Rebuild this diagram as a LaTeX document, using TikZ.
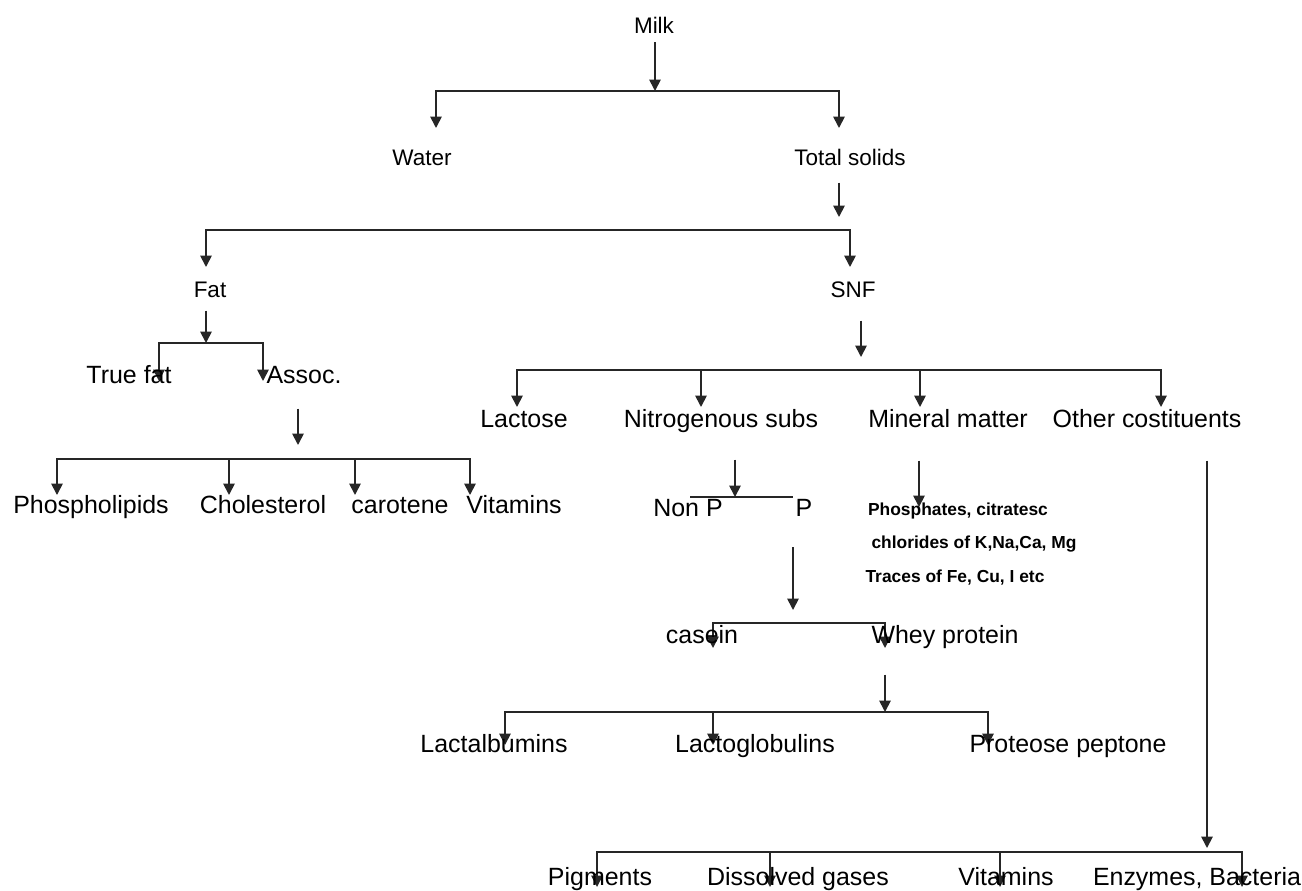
\documentclass[tikz,border=0pt]{standalone}
\usepackage{fontspec}
\setmainfont{Liberation Sans}
\usetikzlibrary{arrows.meta}
\tikzset{
    link/.style={line width=1pt, black!85},
    flowarrow/.style={link, -{Triangle[length=6.5pt, width=6.5pt]}},
    bracket/.style={link, {Triangle[length=6.5pt, width=6.5pt]}-{Triangle[length=6.5pt, width=6.5pt]}},
    toplabel/.style={anchor=base, inner sep=0pt, font=\fontsize{12.8}{14}\selectfont},
    item/.style={anchor=base, inner sep=0pt, font=\fontsize{14.2}{16}\selectfont},
    minor/.style={anchor=base, inner sep=0pt, font=\bfseries\fontsize{9.9}{12}\selectfont}
}

\begin{document}
\begin{tikzpicture}[x=0.2mm, y=-0.2mm]
    \useasboundingbox (0,0) rectangle (1302,890);
    % levels of the arrow tips
    \coordinate (row1) at (0,128);
    \coordinate (row2) at (0,267);
    \coordinate (row3) at (0,381);
    \coordinate (row4) at (0,495);
    \coordinate (row5) at (0,407);
    \coordinate (row6) at (0,648);
    \coordinate (row7) at (0,745);
    \coordinate (row8) at (0,887);

    % milk
    \node[toplabel] (milk) at (654,33) {Milk};
    \coordinate (milkIn) at (655,91);
    \coordinate (milkL) at (436,91);
    \coordinate (milkR) at (839,91);
    \draw[flowarrow] (milk.south -| milkIn) ++(0,9) -- (milkIn);
    \draw[bracket] (milkL |- row1) -- (milkL) -- (milkR) -- (milkR |- row1);
    \node[toplabel] (water) at (422,165) {Water};
    \node[toplabel] (solids) at (850,165) {Total solids};

    % total solids
    \coordinate (solidsIn) at (839,217);
    \coordinate (solidsL) at (206,230);
    \coordinate (solidsR) at (850,230);
    \draw[flowarrow] (solids.south -| solidsIn) ++(0,17) -- (solidsIn);
    \draw[bracket] (solidsL |- row2) -- (solidsL) -- (solidsR) -- (solidsR |- row2);
    \node[toplabel] (fat) at (210,297) {Fat};
    \node[toplabel] (snf) at (853,297) {SNF};

    % fat
    \coordinate (fatIn) at (206,343);
    \coordinate (fatL) at (159,343);
    \coordinate (fatR) at (263,343);
    \draw[flowarrow] (fat.south -| fatIn) ++(0,13) -- (fatIn);
    \draw[bracket] (fatL |- row3) -- (fatL) -- (fatR) -- (fatR |- row3);
    \node[item] (truefat) at (129,383) {True fat};
    \node[item] (assoc) at (304,383) {Assoc.};

    \coordinate (assocIn) at (298,445);
    \coordinate (assocL) at (57,459);
    \coordinate (assocR) at (470,459);
    \coordinate (chol) at (229,459);
    \coordinate (carot) at (355,459);
    \draw[flowarrow] (assoc.south -| assocIn) ++(0,25) -- (assocIn);
    \draw[bracket] (assocL |- row4) -- (assocL) -- (assocR) -- (assocR |- row4);
    \draw[flowarrow] (chol) -- (chol |- row4);
    \draw[flowarrow] (carot) -- (carot |- row4);
    \node[item] (phospho) at (91,513) {Phospholipids};
    \node[item] (cholest) at (263,513) {Cholesterol};
    \node[item] (carotene) at (400,513) {carotene};
    \node[item] (vitfat) at (514,513) {Vitamins};

    % snf
    \coordinate (snfIn) at (861,357);
    \coordinate (snfL) at (517,370);
    \coordinate (snfR) at (1161,370);
    \coordinate (nitroTop) at (701,370);
    \coordinate (mineralTop) at (920,370);
    \draw[flowarrow] (snf.south -| snfIn) ++(0,23) -- (snfIn);
    \draw[bracket] (snfL |- row5) -- (snfL) -- (snfR) -- (snfR |- row5);
    \draw[flowarrow] (nitroTop) -- (nitroTop |- row5);
    \draw[flowarrow] (mineralTop) -- (mineralTop |- row5);
    \node[item] (lactose) at (524,427) {Lactose};
    \node[item] (nitro) at (721,427) {Nitrogenous subs};
    \node[item] (mineral) at (948,427) {Mineral matter};
    \node[item] (other) at (1147,427) {Other costituents};

    % nitrogenous substances
    \coordinate (nitroIn) at (735,497);
    \coordinate (nitroL) at (690,497);
    \coordinate (nitroR) at (793,497);
    \draw[flowarrow] (nitro.south -| nitroIn) ++(0,27) -- (nitroIn);
    \draw[link] (nitroL) -- (nitroR);
    \node[item] (nonp) at (688,516) {Non P};
    \node[item] (p) at (804,516) {P};

    % mineral matter
    \coordinate (mineralIn) at (919,507);
    \draw[flowarrow] (mineral.south -| mineralIn) ++(0,33) -- (mineralIn);
    \node[minor] (phosph) at (958,515) {Phosphates, citratesc};
    \node[minor] (chlor) at (974,548) {chlorides of K,Na,Ca, Mg};
    \node[minor] (traces) at (955,582) {Traces of Fe, Cu, I etc};

    % protein
    \coordinate (pIn) at (793,610);
    \coordinate (pL) at (713,623);
    \coordinate (pR) at (885,623);
    \draw[flowarrow] (p.south -| pIn) ++(0,31) -- (pIn);
    \draw[bracket] (pL |- row6) -- (pL) -- (pR) -- (pR |- row6);
    \node[item] (casein) at (702,643) {casein};
    \node[item] (whey) at (945,643) {Whey protein};

    \coordinate (wheyIn) at (885,712);
    \coordinate (wheyL) at (505,712);
    \coordinate (wheyR) at (988,712);
    \coordinate (globTop) at (713,712);
    \draw[flowarrow] (whey.south -| wheyIn) ++(0,26) -- (wheyIn);
    \draw[bracket] (wheyL |- row7) -- (wheyL) -- (wheyR) -- (wheyR |- row7);
    \draw[flowarrow] (globTop) -- (globTop |- row7);
    \node[item] (albumin) at (494,752) {Lactalbumins};
    \node[item] (globulin) at (755,752) {Lactoglobulins};
    \node[item] (proteose) at (1068,752) {Proteose peptone};

    % other constituents
    \coordinate (otherIn) at (1207,848);
    \coordinate (otherL) at (597,852);
    \coordinate (otherR) at (1242,852);
    \coordinate (gasTop) at (770,852);
    \coordinate (vitTop) at (1000,852);
    \draw[flowarrow] (other.south -| otherIn) ++(0,33) -- (otherIn);
    \draw[bracket] (otherL |- row8) -- (otherL) -- (otherR) -- (otherR |- row8);
    \draw[flowarrow] (gasTop) -- (gasTop |- row8);
    \draw[flowarrow] (vitTop) -- (vitTop |- row8);
    \node[item] (pigments) at (600,885) {Pigments};
    \node[item] (gases) at (798,885) {Dissolved gases};
    \node[item] (vitother) at (1006,885) {Vitamins};
    \node[item] (enzymes) at (1197,885) {Enzymes, Bacteria};
\end{tikzpicture}
\end{document}
